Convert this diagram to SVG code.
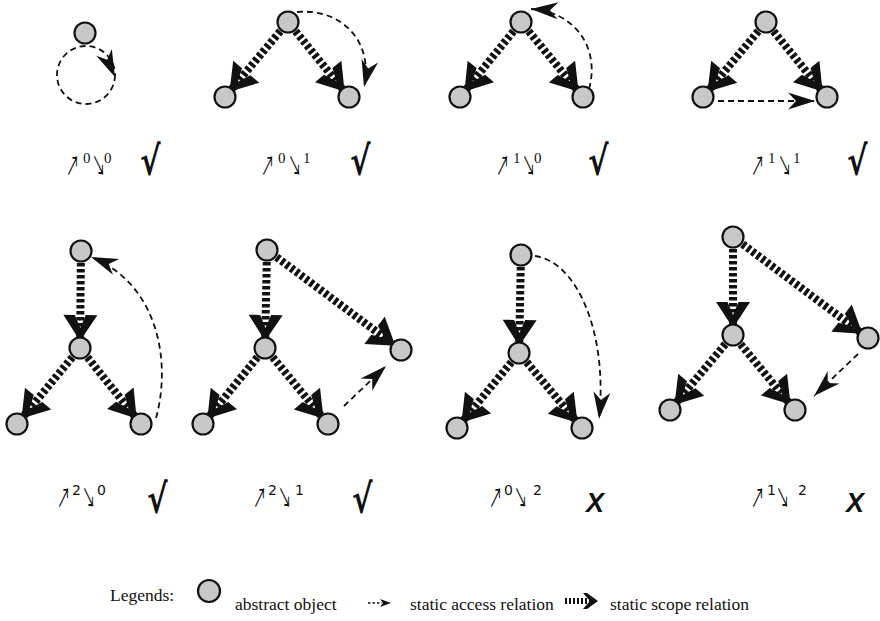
<svg xmlns="http://www.w3.org/2000/svg" width="880" height="621" viewBox="0 0 880 621">
  <style>
    .node circle { fill: #c8c8c8; stroke: #111; stroke-width: 2.2; }
    .scope { fill: none; stroke: #111; stroke-width: 8; stroke-dasharray: 3.5 2.5; marker-end: url(#chev); }
    .access { fill: none; stroke: #111; stroke-width: 1.8; stroke-dasharray: 6 4; marker-end: url(#dart); }
    .loop { fill: none; stroke: #111; stroke-width: 1.8; stroke-dasharray: 6 4; }
    .arr { font-family: "Noto Sans CJK JP", "DejaVu Sans", sans-serif; font-size: 27px; fill: #111; }
    .sup1 { font-family: "Liberation Serif", "DejaVu Serif", serif; font-size: 15px; fill: #111; }
    .sup2 { font-family: "DejaVu Sans", sans-serif; font-size: 14px; fill: #111; }
    .ok { font-family: "DejaVu Sans", sans-serif; font-weight: bold; font-size: 40px; fill: #111; }
    .no { font-family: "Liberation Sans", Arial, sans-serif; font-weight: bold; font-style: italic; font-size: 27px; fill: #111; }
    .legend { font-family: "Liberation Serif", "Times New Roman", serif; font-size: 17.5px; fill: #111; }
  </style>
  <defs>
    <!-- heavy open chevron for scope relations; tip sits on the target node's rim -->
    <marker id="chev" markerUnits="userSpaceOnUse" orient="auto" overflow="visible" markerWidth="1" markerHeight="1" refX="0" refY="0">
      <path d="M-7,0 L-33,-17 L-33,-5.5 L-20,0 L-33,5.5 L-33,17 Z" fill="#111"/>
    </marker>
    <!-- stealth dart for access relations -->
    <marker id="dart" markerUnits="userSpaceOnUse" orient="auto" overflow="visible" markerWidth="1" markerHeight="1" refX="0" refY="0">
      <path d="M0,0 L-27,-8.5 L-19,0 L-27,8.5 Z" fill="#111"/>
    </marker>
  </defs>

  <g id="connectors">
    <!-- row 1 -->
    <circle class="loop" cx="86" cy="75" r="29"/>
    <path d="M0,0 L-27,-8.5 L-19,0 L-27,8.5 Z" fill="#111" transform="translate(115,77) rotate(66)"/>

    <line class="scope" x1="288" y1="22" x2="225" y2="97"/>
    <line class="scope" x1="288" y1="22" x2="349" y2="97"/>
    <path class="access" d="M297,12 C342,8 374,42 364,87"/>

    <line class="scope" x1="521" y1="22" x2="460" y2="97"/>
    <line class="scope" x1="521" y1="22" x2="583" y2="97"/>
    <path class="access" d="M589,89 C600,50 577,12 531,9"/>

    <line class="scope" x1="766" y1="22" x2="703" y2="97"/>
    <line class="scope" x1="766" y1="22" x2="827" y2="97"/>
    <path class="access" d="M718,101 L815,101"/>

    <!-- row 2 -->
    <line class="scope" x1="81" y1="251" x2="80" y2="348"/>
    <line class="scope" x1="80" y1="348" x2="17" y2="424"/>
    <line class="scope" x1="80" y1="348" x2="141" y2="424"/>
    <path class="access" d="M156,418 C172,360 157,283 91,257"/>

    <line class="scope" x1="267" y1="250" x2="265" y2="348"/>
    <line class="scope" x1="265" y1="348" x2="203" y2="424"/>
    <line class="scope" x1="265" y1="348" x2="328" y2="424"/>
    <line class="scope" x1="267" y1="250" x2="401" y2="350"/>
    <path class="access" d="M344,406 L386,366"/>

    <line class="scope" x1="521" y1="255" x2="519" y2="353"/>
    <line class="scope" x1="519" y1="353" x2="457" y2="428"/>
    <line class="scope" x1="519" y1="353" x2="582" y2="428"/>
    <path class="access" d="M535,256 C578,262 608,335 599,419"/>

    <line class="scope" x1="733" y1="237" x2="733" y2="335"/>
    <line class="scope" x1="733" y1="335" x2="670" y2="410"/>
    <line class="scope" x1="733" y1="335" x2="795" y2="410"/>
    <line class="scope" x1="733" y1="237" x2="868" y2="338"/>
    <path class="access" d="M858,354 L814,396"/>
  </g>

  <!-- abstract objects -->
  <g id="r1p1-top" class="node"><circle cx="85" cy="33" r="10.5"/></g>

  <g id="r1p2-top" class="node"><circle cx="288" cy="22" r="10.5"/></g>
  <g id="r1p2-left" class="node"><circle cx="225" cy="97" r="10.5"/></g>
  <g id="r1p2-right" class="node"><circle cx="349" cy="97" r="10.5"/></g>

  <g id="r1p3-top" class="node"><circle cx="521" cy="22" r="10.5"/></g>
  <g id="r1p3-left" class="node"><circle cx="460" cy="97" r="10.5"/></g>
  <g id="r1p3-right" class="node"><circle cx="583" cy="97" r="10.5"/></g>

  <g id="r1p4-top" class="node"><circle cx="766" cy="22" r="10.5"/></g>
  <g id="r1p4-left" class="node"><circle cx="703" cy="97" r="10.5"/></g>
  <g id="r1p4-right" class="node"><circle cx="827" cy="97" r="10.5"/></g>

  <g id="r2p1-top" class="node"><circle cx="81" cy="251" r="10.5"/></g>
  <g id="r2p1-mid" class="node"><circle cx="80" cy="348" r="10.5"/></g>
  <g id="r2p1-left" class="node"><circle cx="17" cy="424" r="10.5"/></g>
  <g id="r2p1-right" class="node"><circle cx="141" cy="424" r="10.5"/></g>

  <g id="r2p2-top" class="node"><circle cx="267" cy="250" r="10.5"/></g>
  <g id="r2p2-mid" class="node"><circle cx="265" cy="348" r="10.5"/></g>
  <g id="r2p2-left" class="node"><circle cx="203" cy="424" r="10.5"/></g>
  <g id="r2p2-right" class="node"><circle cx="328" cy="424" r="10.5"/></g>
  <g id="r2p2-side" class="node"><circle cx="401" cy="350" r="10.5"/></g>

  <g id="r2p3-top" class="node"><circle cx="521" cy="255" r="10.5"/></g>
  <g id="r2p3-mid" class="node"><circle cx="519" cy="353" r="10.5"/></g>
  <g id="r2p3-left" class="node"><circle cx="457" cy="428" r="10.5"/></g>
  <g id="r2p3-right" class="node"><circle cx="582" cy="428" r="10.5"/></g>

  <g id="r2p4-top" class="node"><circle cx="733" cy="237" r="10.5"/></g>
  <g id="r2p4-mid" class="node"><circle cx="733" cy="335" r="10.5"/></g>
  <g id="r2p4-left" class="node"><circle cx="670" cy="410" r="10.5"/></g>
  <g id="r2p4-right" class="node"><circle cx="795" cy="410" r="10.5"/></g>
  <g id="r2p4-side" class="node"><circle cx="868" cy="338" r="10.5"/></g>

  <!-- level labels and verdicts -->
  <g id="labels">
    <g transform="translate(66,0)">
      <text class="arr" transform="translate(0,176) scale(0.5,1)">↗</text>
      <text class="sup1" x="17" y="163">0</text>
      <text class="arr" transform="translate(26,176) scale(0.5,1)">↘</text>
      <text class="sup1" x="38" y="163">0</text>
    </g>
    <text class="ok" transform="translate(140,175) scale(0.77,1)">√</text>

    <g transform="translate(261,0)">
      <text class="arr" transform="translate(0,176) scale(0.5,1)">↗</text>
      <text class="sup1" x="17" y="163">0</text>
      <text class="arr" transform="translate(27,176) scale(0.5,1)">↘</text>
      <text class="sup1" x="42" y="163">1</text>
    </g>
    <text class="ok" transform="translate(350,175) scale(0.77,1)">√</text>

    <g transform="translate(496,0)">
      <text class="arr" transform="translate(0,176) scale(0.5,1)">↗</text>
      <text class="sup1" x="17" y="163">1</text>
      <text class="arr" transform="translate(26,176) scale(0.5,1)">↘</text>
      <text class="sup1" x="38" y="163">0</text>
    </g>
    <text class="ok" transform="translate(588,175) scale(0.77,1)">√</text>

    <g transform="translate(751,0)">
      <text class="arr" transform="translate(0,176) scale(0.5,1)">↗</text>
      <text class="sup1" x="17" y="163">1</text>
      <text class="arr" transform="translate(27,176) scale(0.5,1)">↘</text>
      <text class="sup1" x="42" y="163">1</text>
    </g>
    <text class="ok" transform="translate(847,175) scale(0.77,1)">√</text>

    <g transform="translate(57,0)">
      <text class="arr" transform="translate(0,508) scale(0.5,1)">↗</text>
      <text class="sup2" x="15" y="495">2</text>
      <text class="arr" transform="translate(25,508) scale(0.5,1)">↘</text>
      <text class="sup2" x="40" y="495">0</text>
    </g>
    <text class="ok" transform="translate(147,513) scale(0.77,1)">√</text>

    <g transform="translate(253,0)">
      <text class="arr" transform="translate(0,508) scale(0.5,1)">↗</text>
      <text class="sup2" x="15" y="495">2</text>
      <text class="arr" transform="translate(25,508) scale(0.5,1)">↘</text>
      <text class="sup2" x="42" y="495">1</text>
    </g>
    <text class="ok" transform="translate(352,513) scale(0.77,1)">√</text>

    <g transform="translate(489,0)">
      <text class="arr" transform="translate(0,508) scale(0.5,1)">↗</text>
      <text class="sup2" x="15" y="495">0</text>
      <text class="arr" transform="translate(25,508) scale(0.5,1)">↘</text>
      <text class="sup2" x="44" y="495">2</text>
    </g>
    <text class="no" x="586" y="512">X</text>

    <g transform="translate(751,0)">
      <text class="arr" transform="translate(0,508) scale(0.5,1)">↗</text>
      <text class="sup2" x="16" y="495">1</text>
      <text class="arr" transform="translate(25,508) scale(0.5,1)">↘</text>
      <text class="sup2" x="47" y="495">2</text>
    </g>
    <text class="no" x="846" y="512">X</text>
  </g>

  <!-- legend -->
  <g id="legend">
    <text class="legend" x="110" y="601">Legends:</text>
    <g id="legend-object" class="node"><circle cx="209" cy="591" r="11"/></g>
    <text class="legend" x="235" y="610">abstract object</text>
    <line x1="368" y1="603" x2="382" y2="603" stroke="#111" stroke-width="1.4" stroke-dasharray="2.5 2"/>
    <path d="M391,603 L380,599 L383,603 L380,607 Z" fill="#111"/>
    <text class="legend" x="410" y="610">static access relation</text>
    <line x1="565" y1="601" x2="590" y2="601" stroke="#111" stroke-width="6" stroke-dasharray="2 2"/>
    <path d="M598,601 L587,593 L583,593 L590,601 L583,609 L587,609 Z" fill="#111"/>
    <text class="legend" x="610" y="610">static scope relation</text>
  </g>
</svg>
